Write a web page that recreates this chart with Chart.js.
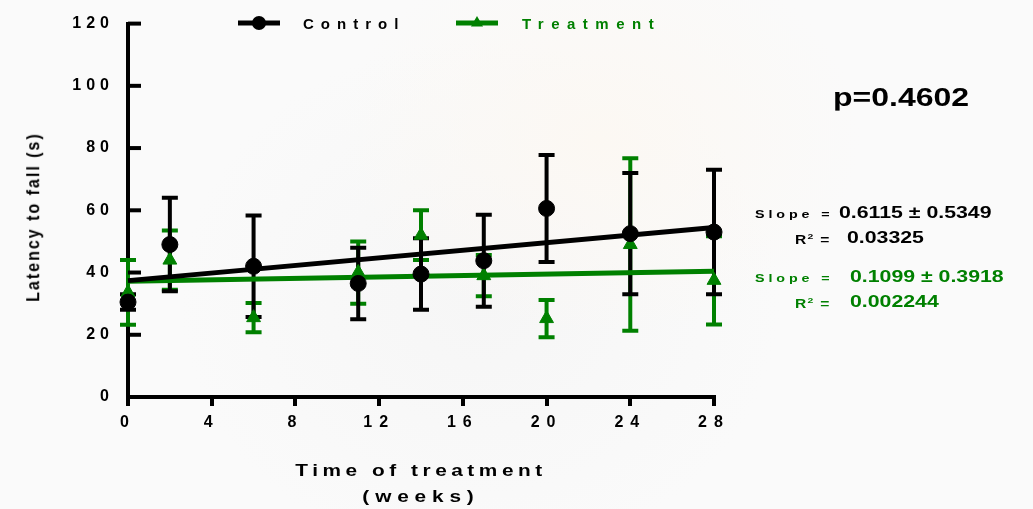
<!DOCTYPE html>
<html>
<head>
<meta charset="utf-8">
<script src="https://cdn.jsdelivr.net/npm/chart.js@4.4.0/dist/chart.umd.min.js"></script>
<style>
body{margin:0;background:#fafafa;}
#wrap{position:relative;width:1033px;height:509px;overflow:hidden;
  background:radial-gradient(ellipse 260px 200px at 600px 140px,#fcf8f3 0%,rgba(250,250,250,0) 100%),
             radial-gradient(ellipse 300px 260px at 480px 300px,#f6f6f6 0%,rgba(250,250,250,0) 100%),#fafafa;}
canvas{position:absolute;left:0;top:0;}
.t{position:absolute;font-family:"Liberation Sans",Arial,sans-serif;font-weight:bold;white-space:nowrap;line-height:1;}
.v{font-size:16px;transform:translateY(-50%) scaleX(1.33);transform-origin:left center;}
.s{font-size:11px;letter-spacing:3px;transform:translateY(-50%) scaleX(1.3);transform-origin:left center;}
.r{font-size:12px;letter-spacing:1px;transform:translateY(-50%) scaleX(1.3);transform-origin:left center;}
.r sup{font-size:8px;vertical-align:5px;}
.g{color:#008000;}
</style>
</head>
<body>
<div id="wrap">
<canvas id="grafico" width="1033" height="509"></canvas>

<div class="t" style="left:33px;top:217px;font-size:16px;letter-spacing:2px;transform:translate(-50%,-50%) rotate(-90deg) scaleY(1.2);">Latency to fall (s)</div>
<div class="t" style="left:421px;top:471px;font-size:16px;letter-spacing:3.5px;transform:translate(-50%,-50%) scaleX(1.3);">Time of treatment</div>
<div class="t" style="left:421px;top:497px;font-size:16px;letter-spacing:4.5px;transform:translate(-50%,-50%) scaleX(1.3);">(weeks)</div>

<div class="t" style="left:833px;top:97px;font-size:25px;transform:translateY(-50%) scaleX(1.28);transform-origin:left center;">p=0.4602</div>

<div class="t s" style="left:755px;top:214px;">Slope =</div>
<div class="t v" style="left:839px;top:213px;">0.6115 ± 0.5349</div>
<div class="t r" style="left:795px;top:239px;">R<sup>2</sup> =</div>
<div class="t v" style="left:847px;top:238px;">0.03325</div>

<div class="t s g" style="left:755px;top:278px;">Slope =</div>
<div class="t v g" style="left:850px;top:277px;">0.1099 ± 0.3918</div>
<div class="t r g" style="left:795px;top:303px;">R<sup>2</sup> =</div>
<div class="t v g" style="left:850px;top:302px;">0.002244</div>
</div>

<script>
// semanas de tratamiento
const weeks = [0, 2, 6, 11, 14, 17, 20, 24, 28];
const controlMean = [30.5, 49, 42, 36.5, 39.5, 43.8, 60.6, 52.5, 53];
const controlErr = [2.5, 15, 16.3, 11.5, 11.5, 14.8, 17.2, 19.5, 20];
const treatmentMean = [33.6, 44, 25.5, 40, 52, 39, 25.2, 49, 37.5];
const treatmentErr = [10.4, 9.5, 4.7, 10, 8, 6.6, 6, 27.7, 14.2];
// rectas de regresion
const fitX = [0, 28];
const controlFit = [37.4, 54.5];
const treatmentFit = [37.2, 40.4];
const xTicks = [0, 4, 8, 12, 16, 20, 24, 28];
const yTicks = [0, 20, 40, 60, 80, 100, 120];

const negro = '#000000';
const verde = '#008000';
const fuente = '"Liberation Sans", Arial, sans-serif';

const puntos = (xs, ys) => xs.map((v, i) => ({x: v, y: ys[i]}));

const barrasError = {
    id: 'barrasError',
    beforeDatasetsDraw(chart) {
        const {ctx, scales: {x, y}} = chart;
        const grupos = [[treatmentMean, treatmentErr, verde], [controlMean, controlErr, negro]];
        ctx.save();
        ctx.lineWidth = 4;
        grupos.forEach(([m, e, c]) => {
            ctx.strokeStyle = c;
            weeks.forEach((w, i) => {
                const px = x.getPixelForValue(w);
                const arriba = y.getPixelForValue(m[i] + e[i]);
                const abajo = y.getPixelForValue(m[i] - e[i]);
                ctx.beginPath();
                ctx.moveTo(px, arriba); ctx.lineTo(px, abajo);
                ctx.moveTo(px - 8, arriba); ctx.lineTo(px + 8, arriba);
                ctx.moveTo(px - 8, abajo); ctx.lineTo(px + 8, abajo);
                ctx.stroke();
            });
        });
        ctx.restore();
    }
};

// ticks del eje y hacia adentro + leyenda
const extras = {
    id: 'extras',
    beforeDraw(chart) {
        [['x', '7px'], ['y', '5px']].forEach(([id, sp]) => {
            const s = chart.scales[id];
            if (!s._espaciado) {
                const orig = s.drawLabels.bind(s);
                s.drawLabels = function (a) {
                    chart.ctx.save();
                    chart.ctx.letterSpacing = sp;
                    orig(a);
                    chart.ctx.restore();
                };
                s._espaciado = true;
            }
        });
    },
    afterDraw(chart) {
        const {ctx, chartArea, scales: {y}} = chart;
        ctx.save();
        ctx.strokeStyle = negro;
        ctx.lineWidth = 4;
        y.ticks.forEach(t => {
            const py = y.getPixelForValue(t.value);
            ctx.beginPath();
            ctx.moveTo(chartArea.left, py);
            ctx.lineTo(chartArea.left + 13, py);
            ctx.stroke();
        });

        // leyenda
        const items = [
            {txt: 'Control', c: negro, estilo: 'circle', x0: 238, tx: 303, sp: '7px'},
            {txt: 'Treatment', c: verde, estilo: 'triangle', x0: 456, tx: 522, sp: '7.5px'}
        ];
        items.forEach(it => {
            ctx.strokeStyle = it.c;
            ctx.fillStyle = it.c;
            ctx.lineWidth = 5;
            ctx.beginPath();
            ctx.moveTo(it.x0, 23);
            ctx.lineTo(it.x0 + 42, 23);
            ctx.stroke();
            Chart.helpers.drawPoint(ctx, {pointStyle: it.estilo, radius: 7, borderWidth: 0}, it.x0 + 21, 23);
            ctx.letterSpacing = it.sp;
            ctx.font = 'bold 15px ' + fuente;
            ctx.textBaseline = 'alphabetic';
            ctx.textAlign = 'left';
            ctx.fillText(it.txt, it.tx, 29);
        });
        ctx.restore();
    }
};

const grafico = new Chart(document.getElementById('grafico').getContext('2d'), {
    data: {
        datasets: [
            {
                type: 'scatter',
                label: 'Control',
                data: puntos(weeks, controlMean),
                pointStyle: 'circle',
                pointRadius: 8,
                backgroundColor: negro,
                borderColor: negro,
                clip: false,
                order: 0
            },
            {
                type: 'scatter',
                label: 'Treatment',
                data: puntos(weeks, treatmentMean),
                pointStyle: 'triangle',
                pointRadius: 8,
                backgroundColor: verde,
                borderColor: verde,
                clip: false,
                order: 1
            },
            {
                type: 'line',
                label: 'Control fit',
                data: puntos(fitX, controlFit),
                borderColor: negro,
                borderWidth: 5,
                pointRadius: 0,
                clip: false,
                order: 2
            },
            {
                type: 'line',
                label: 'Treatment fit',
                data: puntos(fitX, treatmentFit),
                borderColor: verde,
                borderWidth: 5,
                pointRadius: 0,
                clip: false,
                order: 3
            }
        ]
    },
    options: {
        responsive: false,
        animation: false,
        events: [],
        layout: {padding: {left: 0, top: 16, right: 319, bottom: 72}},
        plugins: {legend: {display: false}, tooltip: {enabled: false}},
        scales: {
            x: {
                type: 'linear',
                min: 0,
                max: 28,
                afterBuildTicks: s => { s.ticks = xTicks.map(v => ({value: v})); },
                afterFit: s => { s.height = 40; },
                border: {display: true, width: 4, color: negro},
                grid: {display: true, drawOnChartArea: false, drawTicks: true, tickLength: 9, lineWidth: 4, color: negro},
                ticks: {color: negro, padding: 7, maxRotation: 0, font: {family: fuente, size: 16, weight: 'bold'}}
            },
            y: {
                type: 'linear',
                min: 0,
                max: 120,
                afterBuildTicks: s => { s.ticks = yTicks.map(v => ({value: v})); },
                afterFit: s => { s.width = 128; },
                border: {display: true, width: 4, color: negro},
                grid: {display: true, drawOnChartArea: false, drawTicks: false},
                ticks: {color: negro, padding: 14, font: {family: fuente, size: 16, weight: 'bold'}}
            }
        }
    },
    plugins: [barrasError, extras]
});
</script>
</body>
</html>
